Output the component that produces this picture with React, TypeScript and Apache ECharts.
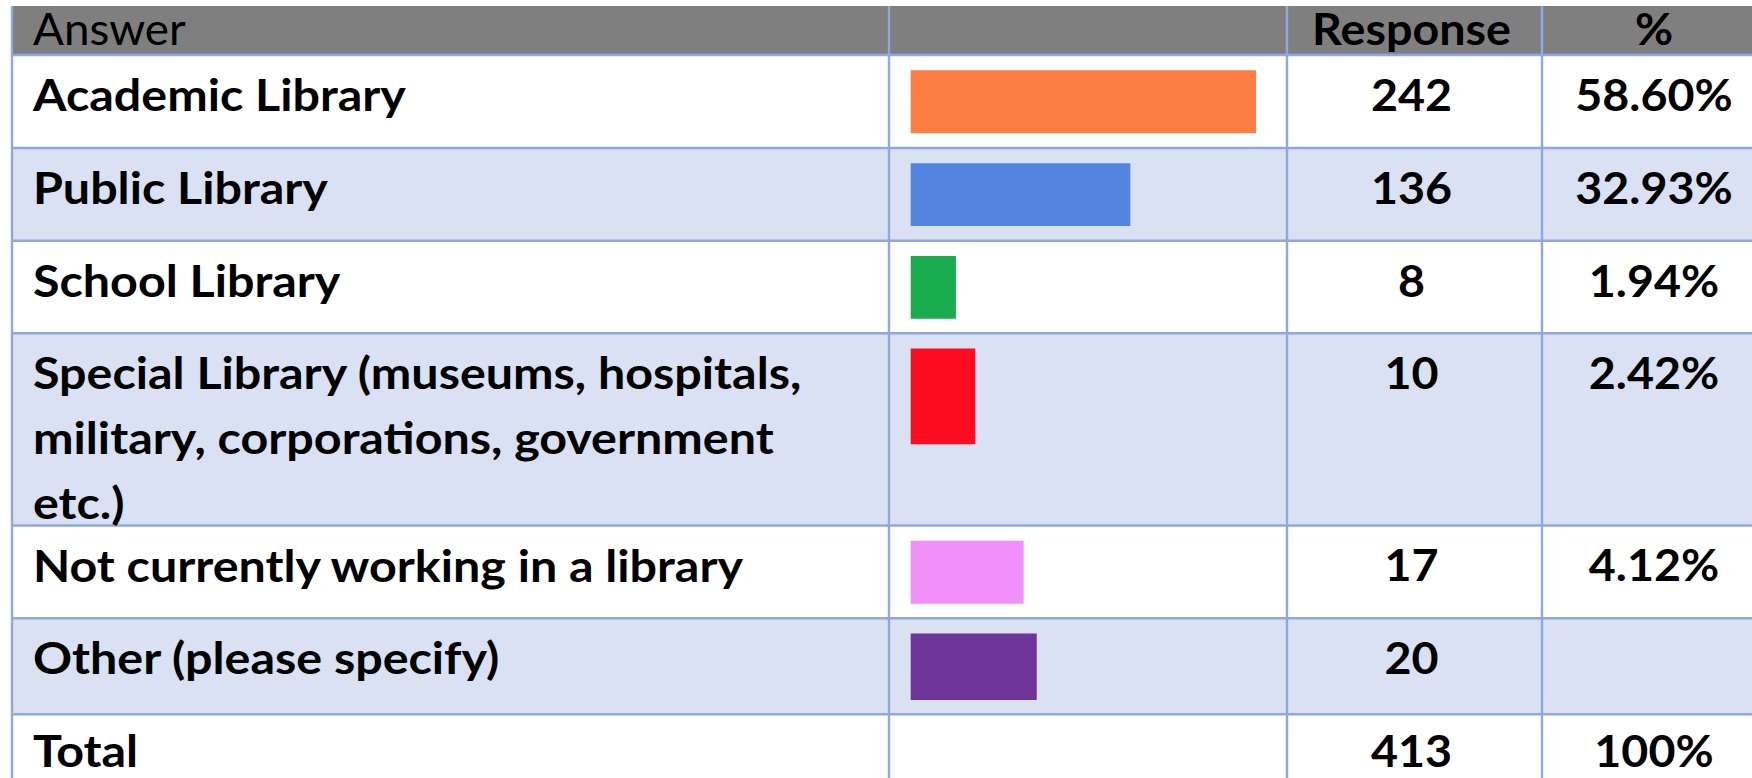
import React, { useEffect, useRef } from "react";
import * as echarts from "echarts";

// ---------- data ----------
const headers = ["Answer", "", "Response", "%"];
const answers = [
  "Academic Library",
  "Public Library",
  "School Library",
  "Special Library (museums, hospitals,\nmilitary, corporations, government\netc.)",
  "Not currently working in a library",
  "Other (please specify)",
];
const responses = [242, 136, 8, 10, 17, 20];
const percents = ["58.60%", "32.93%", "1.94%", "2.42%", "4.12%", ""];
// bar length as drawn in the picture, in % of the longest bar
const barLengths = [100, 63.6, 13.1, 18.7, 32.7, 36.5];
const barColors = ["#FE7D42", "#5284E0", "#19AD4F", "#FB0D1F", "#F290F9", "#6E3499"];
const totalLabel = "Total";
const totalResponses = "413";
const totalPercent = "100%";

// ---------- layout ----------
const W = 1752;
const H = 778;
const HEADER_TOP = 6;
const BODY_TOP = 55;
const COLS = [12, 889, 1287, 1542, 1766];
const ROW_EDGES = [0, 93, 185.7, 278.3, 470.5, 563.3, 659.3, 752];
const BAR_X0 = 910.7;
const BAR_FULL = 345.3;
const BAR_TOP_PAD = 15.3;
const BAR_HEIGHTS = [63, 62.7, 62.7, 95.6, 63, 66.4];
const TEXT_CENTER_OFFSET = 39;
const TOTAL_CENTER_OFFSET = 36;
const LINE_GAP = 65;
const FONT = "Lato";
const FS = 44;
const LABEL_SCALE = 1.1;
const NUM_SCALE = 1.06;
const GRID_COLOR = "#8EA9DB";
const BAND_COLOR = "#D9E1F2";
const HEADER_COLOR = "#7F7F7F";

function buildGraphics() {
  const g: any[] = [];
  // header band
  g.push({
    type: "rect",
    z: 0,
    shape: { x: COLS[0], y: HEADER_TOP, width: W - COLS[0], height: BODY_TOP - HEADER_TOP },
    style: { fill: HEADER_COLOR },
  });
  // row bands
  const nRows = ROW_EDGES.length - 1;
  for (let i = 0; i < nRows; i++) {
    if (i % 2 === 1) {
      g.push({
        type: "rect",
        z: 0,
        shape: {
          x: COLS[0],
          y: BODY_TOP + ROW_EDGES[i],
          width: W - COLS[0],
          height: ROW_EDGES[i + 1] - ROW_EDGES[i],
        },
        style: { fill: BAND_COLOR },
      });
    }
  }
  // horizontal lines
  for (let i = 0; i < nRows; i++) {
    const y = BODY_TOP + ROW_EDGES[i];
    g.push({
      type: "line",
      z: 20,
      shape: { x1: COLS[0], y1: y, x2: W, y2: y },
      style: { stroke: GRID_COLOR, lineWidth: 2.6 },
    });
  }
  // vertical lines
  for (let c = 0; c < 4; c++) {
    g.push({
      type: "line",
      z: 20,
      shape: { x1: COLS[c], y1: HEADER_TOP, x2: COLS[c], y2: H },
      style: { stroke: GRID_COLOR, lineWidth: 2.4 },
    });
  }
  const txt = (
    text: string,
    x: number,
    y: number,
    align: string,
    bold: boolean,
    sx: number
  ) => ({
    type: "text",
    z: 30,
    x,
    y,
    scaleX: sx,
    style: {
      text,
      fill: "#000",
      font: `${bold ? "bold " : ""}${FS}px ${FONT}`,
      align,
      verticalAlign: "middle",
    },
  });
  const colCenter = (c: number) => (COLS[c] + COLS[c + 1]) / 2;
  // header texts
  const hy = 28;
  g.push(txt(headers[0], 33, hy, "left", false, 1.04));
  g.push(txt(headers[2], colCenter(2) - 3, hy, "center", true, NUM_SCALE));
  g.push(txt(headers[3], colCenter(3), hy, "center", true, NUM_SCALE));
  // body rows
  const labels = [...answers, totalLabel];
  const resp = [...responses.map(String), totalResponses];
  const pct = [...percents, totalPercent];
  labels.forEach((lab, i) => {
    const top = BODY_TOP + ROW_EDGES[i];
    const off = i === labels.length - 1 ? TOTAL_CENTER_OFFSET : TEXT_CENTER_OFFSET;
    lab.split("\n").forEach((line, k) => {
      g.push(txt(line, 33, top + off + k * LINE_GAP, "left", true, LABEL_SCALE));
    });
    g.push(txt(resp[i], colCenter(2) - 3, top + off, "center", true, NUM_SCALE));
    if (pct[i]) g.push(txt(pct[i], colCenter(3), top + off, "center", true, NUM_SCALE));
  });
  return g;
}

export default function App() {
  const ref = useRef<HTMLDivElement>(null);
  useEffect(() => {
    if (!ref.current) return;
    const chart = echarts.init(ref.current, null, { renderer: "svg" });
    chart.setOption({
      animation: false,
      backgroundColor: "#ffffff",
      grid: {
        left: BAR_X0,
        top: BODY_TOP,
        width: BAR_FULL,
        height: H - BODY_TOP,
        containLabel: false,
      },
      xAxis: { type: "value", min: 0, max: 100, show: false },
      yAxis: { type: "value", min: 0, max: H - BODY_TOP, inverse: true, show: false },
      graphic: buildGraphics(),
      series: [
        {
          type: "custom",
          coordinateSystem: "cartesian2d",
          z: 10,
          clip: false,
          data: barLengths.map((v, i) => [v, i]),
          renderItem: (params: any, api: any) => {
            const i = api.value(1);
            const top = ROW_EDGES[i] + BAR_TOP_PAD;
            const p0 = api.coord([0, top]);
            const p1 = api.coord([api.value(0), top + BAR_HEIGHTS[i]]);
            return {
              type: "rect",
              shape: { x: p0[0], y: p0[1], width: p1[0] - p0[0], height: p1[1] - p0[1] },
              style: { fill: barColors[i] },
            };
          },
        },
      ],
    });
    return () => chart.dispose();
  }, []);
  return (
    <div
      ref={ref}
      style={{ position: "absolute", left: 0, top: 0, width: W, height: H }}
    />
  );
}
